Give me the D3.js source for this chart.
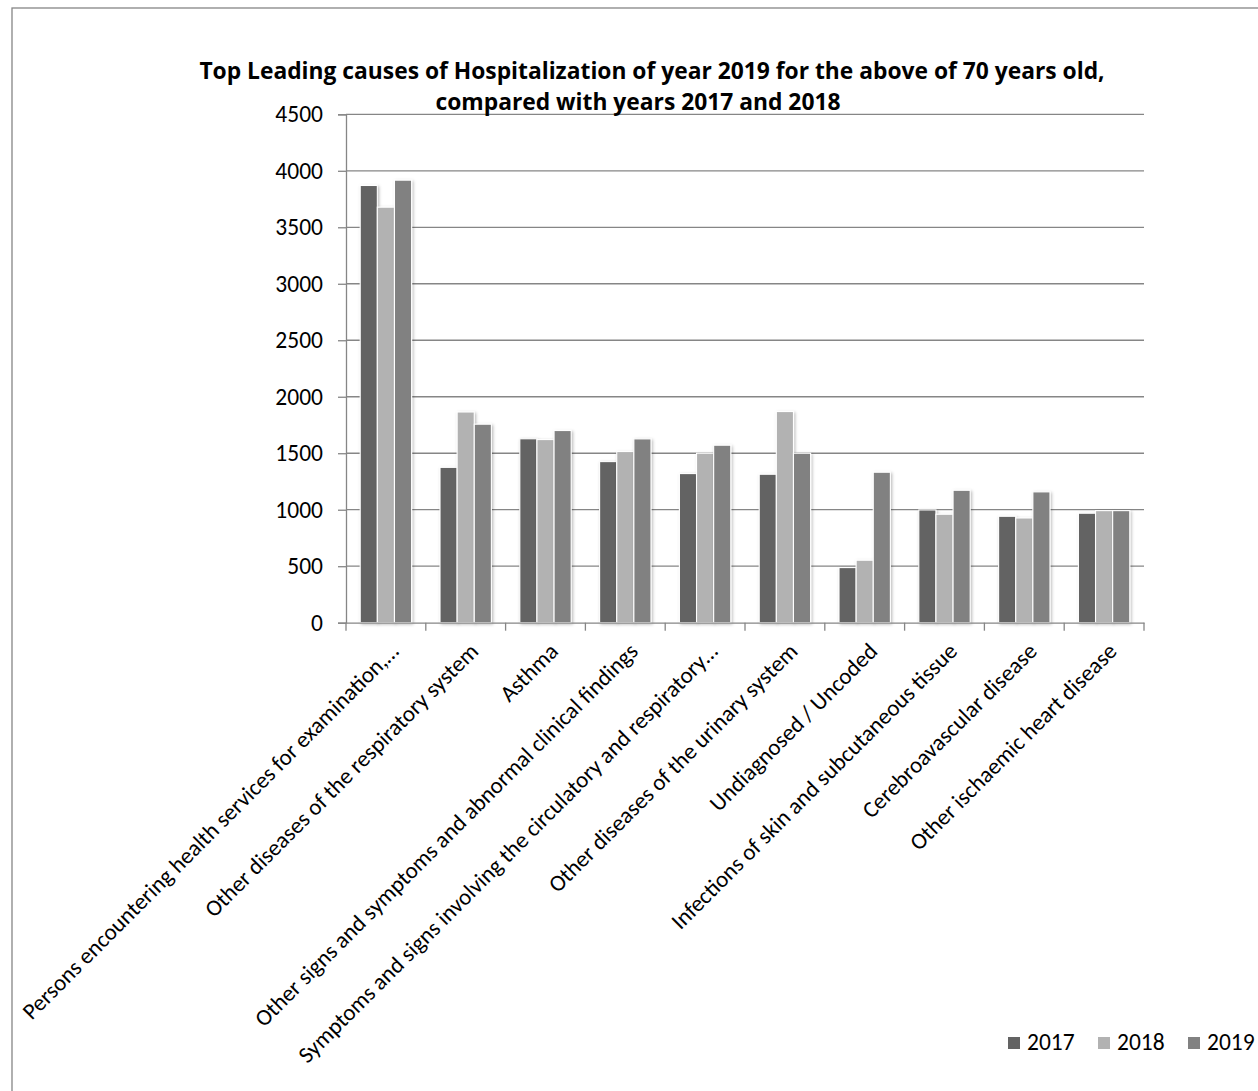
<!DOCTYPE html>
<html>
<head>
<meta charset="utf-8">
<script src="https://cdn.jsdelivr.net/npm/d3@7"></script>
<style>
  html, body { margin: 0; padding: 0; background: #ffffff; }
  svg { display: block; }
  text { font-family: Carlito, Lato, "Open Sans", sans-serif; fill: #000; }
</style>
</head>
<body>
<svg id="chart" width="1258" height="1091"></svg>
<script>
const categories = [
  "Persons encountering health services for examination,…",
  "Other diseases of the respiratory system",
  "Asthma",
  "Other signs and symptoms and abnormal clinical findings",
  "Symptoms and signs involving the circulatory and respiratory…",
  "Other diseases of the urinary system",
  "Undiagnosed / Uncoded",
  "Infections of skin and subcutaneous tissue",
  "Cerebroavascular disease",
  "Other ischaemic heart disease"
];
const years = ["2017", "2018", "2019"];
const values2017 = [3870, 1375, 1628, 1426, 1320, 1314, 488, 998, 942, 969];
const values2018 = [3678, 1865, 1621, 1515, 1500, 1869, 553, 960, 927, 992];
const values2019 = [3917, 1757, 1701, 1627, 1571, 1500, 1332, 1172, 1158, 992];
const yTicks = [0, 500, 1000, 1500, 2000, 2500, 3000, 3500, 4000, 4500];
const colors = ["#636363", "#b2b2b2", "#818181"];
const titleLines = [
  "Top Leading causes of Hospitalization of year 2019 for the above of 70 years old,",
  "compared with years 2017 and 2018"
];

(function () {
const series = [values2017, values2018, values2019];
const rows = categories.map((c, i) => ({ cat: c, vals: years.map((yr, k) => ({ year: yr, k, v: series[k][i] })) }));

const svg = d3.select("#chart");
const gridColor = "#868686";

const defs = svg.append("defs");
const f = defs.append("filter").attr("id", "shadow").attr("x", "-30%").attr("y", "-10%").attr("width", "160%").attr("height", "130%");
f.append("feDropShadow").attr("dx", 1.2).attr("dy", 1.2).attr("stdDeviation", 1.4).attr("flood-color", "#000").attr("flood-opacity", 0.28);

const pLeft = 346, pRight = 1144, pTop = 114.3, pBottom = 622.7;
const x0 = d3.scaleBand().domain(categories).range([pLeft, pRight]).paddingInner(0).paddingOuter(0);
const x1 = d3.scaleBand().domain(years).range([0, x0.bandwidth()]).paddingInner(0).paddingOuter(0.83);
const y = d3.scaleLinear().domain([0, 4500]).range([pBottom, pTop]);
const color = d3.scaleOrdinal().domain(years).range(colors);

svg.append("g").selectAll("line").data(yTicks.filter(t => t > 0)).join("line")
  .attr("x1", pLeft).attr("x2", pRight).attr("y1", d => y(d)).attr("y2", d => y(d))
  .attr("stroke", gridColor).attr("stroke-width", 1.3);

const yAxis = svg.append("g").attr("transform", `translate(${pLeft},0)`)
  .call(d3.axisLeft(y).tickValues(yTicks).tickSize(8).tickPadding(15).tickFormat(d3.format("d")));
yAxis.select(".domain").attr("stroke", gridColor).attr("stroke-width", 1.3);
yAxis.selectAll(".tick line").attr("stroke", gridColor).attr("stroke-width", 1.3);
yAxis.selectAll(".tick text").style("font-size", "23.5px").style("font-family", "Carlito, Lato, sans-serif").attr("fill", "#000");

const groups = svg.append("g").selectAll("g").data(rows).join("g")
  .attr("transform", d => `translate(${x0(d.cat)},0)`);
groups.selectAll("rect").data(d => d.vals).join("rect")
  .attr("x", d => x1(d.year)).attr("width", x1.bandwidth())
  .attr("y", d => y(d.v)).attr("height", d => y(0) - y(d.v))
  .attr("fill", d => color(d.year))
  .attr("stroke", "#ffffff").attr("stroke-width", 1.1)
  .attr("filter", "url(#shadow)");

const xAxis = svg.append("g").attr("transform", `translate(0,${pBottom})`)
  .call(d3.axisBottom(x0).tickSize(0).tickFormat(""));
xAxis.select(".domain").attr("stroke", gridColor).attr("stroke-width", 1.3);
xAxis.selectAll(".tick").remove();
const boundaries = d3.range(categories.length + 1).map(i => pLeft + i * x0.step());
xAxis.selectAll("line.bt").data(boundaries).join("line").attr("class", "bt")
  .attr("x1", d => d).attr("x2", d => d).attr("y1", 0).attr("y2", 8)
  .attr("stroke", gridColor).attr("stroke-width", 1.3);

svg.append("g").selectAll("text").data(categories).join("text")
  .attr("transform", d => `translate(${x0(d) + x0.bandwidth() / 2 + 14},${pBottom + 30}) rotate(-45)`)
  .attr("text-anchor", "end")
  .style("font-size", "23px")
  .text(d => d);

svg.append("g").selectAll("text").data(titleLines).join("text")
  .attr("x", (d, i) => i === 0 ? 652 : 638).attr("y", (d, i) => 79 + i * 31)
  .attr("text-anchor", "middle")
  .style("font-family", "'Open Sans', Lato, sans-serif")
  .style("font-size", "22.8px").style("font-weight", "bold")
  .text(d => d);

const leg = svg.append("g").selectAll("g").data(years).join("g")
  .attr("transform", (d, i) => `translate(${1008 + i * 90},1050)`);
leg.append("rect").attr("x", 0).attr("y", -13).attr("width", 12).attr("height", 12).attr("fill", d => color(d));
leg.append("text").attr("x", 19).attr("y", 0).style("font-size", "23.5px").text(d => d);

svg.append("rect").attr("x", 12).attr("y", 8).attr("width", 1400).attr("height", 1300)
  .attr("fill", "none").attr("stroke", gridColor).attr("stroke-width", 1.3);
})();
</script>
</body>
</html>
